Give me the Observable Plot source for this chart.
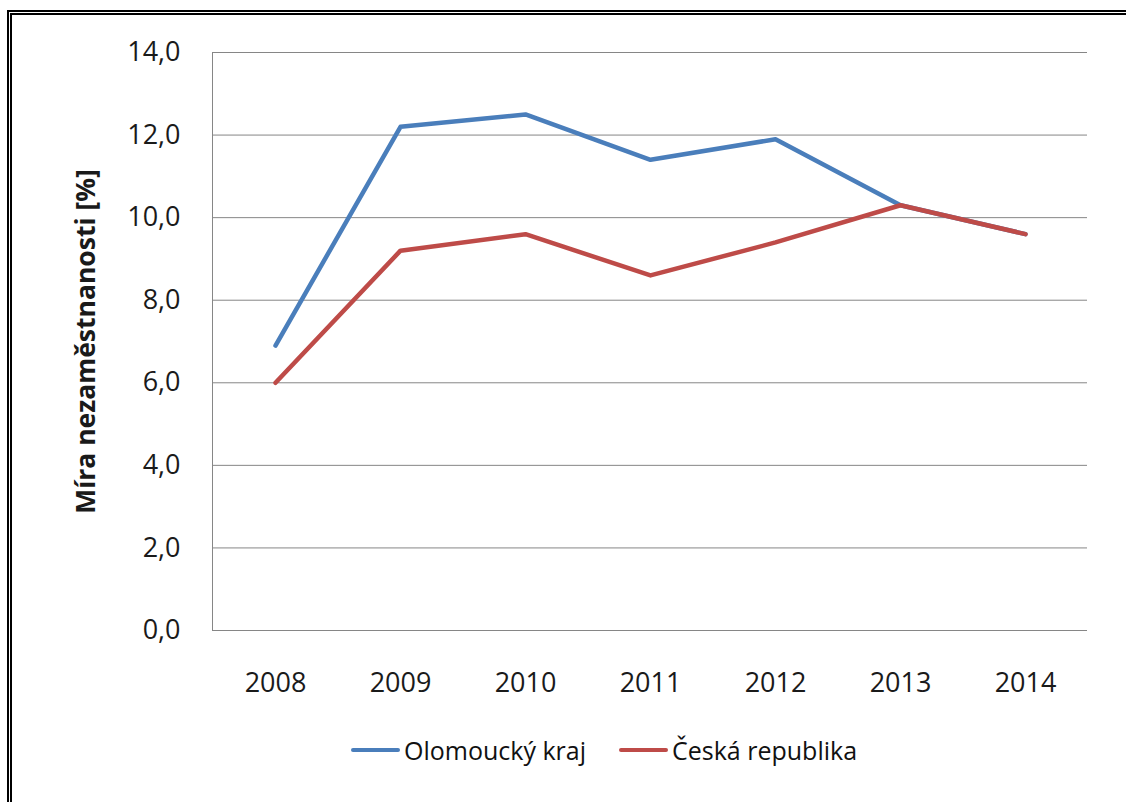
<!DOCTYPE html>
<html>
<head>
<meta charset="utf-8">
<script src="https://cdn.jsdelivr.net/npm/d3@7"></script>
<script src="https://cdn.jsdelivr.net/npm/@observablehq/plot@0.6"></script>
<style>
  html, body { margin: 0; padding: 0; background: #fff; overflow: hidden; }
  body { width: 1126px; height: 802px; position: relative; font-family: "Open Sans", sans-serif; }
  #chart { position: absolute; left: 0; top: 0; }
  #border { position: absolute; left: 7px; top: 10px; width: 1300px; height: 1000px; border: 5px double #000; pointer-events: none; }
  #legend { position: absolute; top: 728px; left: 0; width: 1126px; height: 44px; font-size: 25px; color: #111; }
  .item { position: absolute; top: 0; display: flex; align-items: center; height: 44px; }
  .sw { width: 49px; height: 4.5px; border-radius: 3px; margin-right: 4px; }
  g[aria-label="y-axis label"] text { font-weight: bold; font-size: 26.5px; }
</style>
</head>
<body>
<div id="chart"></div>
<div id="legend"></div>
<div id="border"></div>
<script>
const years = ["2008", "2009", "2010", "2011", "2012", "2013", "2014"];
const olomouc = [6.9, 12.2, 12.5, 11.4, 11.9, 10.3, 9.6];
const cr = [6.0, 9.2, 9.6, 8.6, 9.4, 10.3, 9.6];
const seriesNames = ["Olomoucký kraj", "Česká republika"];
const seriesColors = ["#4A7EBB", "#BE4B48"];
const yTicks = [0, 2, 4, 6, 8, 10, 12, 14];

const data = [
  ...years.map((y, i) => ({year: y, value: olomouc[i], series: seriesNames[0]})),
  ...years.map((y, i) => ({year: y, value: cr[i], series: seriesNames[1]}))
];

const fmt = v => v.toFixed(1).replace(".", ",");

const chart = Plot.plot({
  width: 1126,
  height: 700,
  marginLeft: 212,
  marginRight: 39,
  marginTop: 52,
  marginBottom: 70,
  style: {fontFamily: "'Open Sans', sans-serif", fontSize: "27px", color: "#1a1a1a", background: "transparent"},
  x: {type: "point", domain: years, padding: 0.5},
  y: {domain: [0, 14]},
  color: {domain: seriesNames, range: seriesColors},
  marks: [
    Plot.gridY(yTicks, {stroke: "#868686", strokeOpacity: 1, strokeWidth: 1}),
    Plot.frame({anchor: "left", stroke: "#868686"}),
    Plot.axisY(yTicks, {tickSize: 0, tickPadding: 32, tickFormat: fmt, label: "Míra nezaměstnanosti [%]", labelAnchor: "center", labelArrow: "none", labelOffset: 136, fontSize: 27}),
    Plot.axisX({tickSize: 0, tickPadding: 42, label: null, fontSize: 27}),
    Plot.line(data, {x: "year", y: "value", z: "series", stroke: "series", strokeWidth: 4.5, strokeLinecap: "round", strokeLinejoin: "round"})
  ]
});
document.getElementById("chart").appendChild(chart);

const legend = document.getElementById("legend");
const lefts = [351, 619];
seriesNames.forEach((name, i) => {
  const it = document.createElement("div");
  it.className = "item";
  it.style.left = lefts[i] + "px";
  const sw = document.createElement("div");
  sw.className = "sw";
  sw.style.background = seriesColors[i];
  const tx = document.createElement("span");
  tx.textContent = name;
  it.appendChild(sw);
  it.appendChild(tx);
  legend.appendChild(it);
});
</script>
</body>
</html>
